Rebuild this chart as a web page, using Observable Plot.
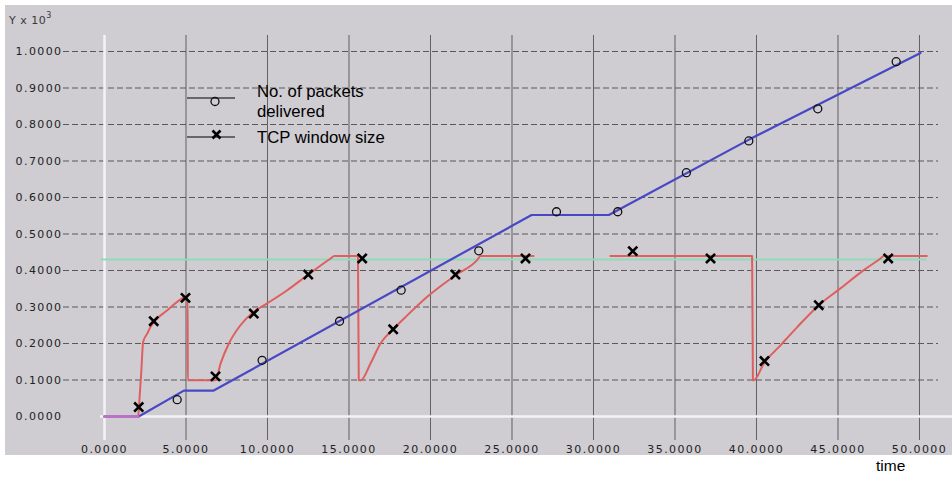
<!DOCTYPE html>
<html>
<head>
<meta charset="utf-8">
<script src="https://cdn.jsdelivr.net/npm/d3@7"></script>
<script src="https://cdn.jsdelivr.net/npm/@observablehq/plot@0.6"></script>
<style>
  html, body { margin: 0; padding: 0; background: #ffffff; }
  #wrap { position: relative; width: 952px; height: 479px; overflow: hidden; background: #ffffff; }
  #chart { position: absolute; left: 5px; top: 5px; }
  #chart svg text { letter-spacing: 1.4px; }
  #ylab { position: absolute; left: 9px; top: 12px; font: 11px "DejaVu Sans", sans-serif; color: #3a3a3a; letter-spacing: 0.5px; }
  #ylab sup { font-size: 8px; position: relative; top: -1px; }
  #xlab { position: absolute; left: 876px; top: 457px; font: 15.5px "Liberation Sans", Arial, sans-serif; color: #000; }
  #legend { position: absolute; left: 0; top: 0; }
</style>
</head>
<body>
<div id="wrap">
  <div id="chart"></div>
  <div id="ylab">Y x 10<sup>3</sup></div>
  <svg id="legend" width="420" height="160"></svg>
  <div id="xlab">time</div>
</div>
<script>
// ---- tick values ----
const xTicks = [0, 5, 10, 15, 20, 25, 30, 35, 40, 45, 50];
const yTicks = [0, 0.1, 0.2, 0.3, 0.4, 0.5, 0.6, 0.7, 0.8, 0.9, 1.0];

// ---- series: No. of packets delivered (line) ----
const pktT = [0, 2.1, 4.87, 6.7, 26.2, 30.94, 39.6, 50.06];
const pktY = [0, 0, 0.071, 0.071, 0.552, 0.552, 0.760, 0.996];
// sampled markers (circles)
const pktMarkT = [4.46, 9.67, 14.42, 18.2, 22.96, 27.73, 31.49, 35.7, 39.53, 43.76, 48.57];
const pktMarkY = [0.046, 0.154, 0.261, 0.346, 0.454, 0.561, 0.561, 0.668, 0.755, 0.843, 0.972];

// ---- series: TCP window size (line, null = gap) ----
const tcpT = [0, 2.06, 2.15, 2.25, 2.37, 2.62, 2.82, 3.85, 4.97, 5.1, 5.11, 6.81, 7.12, 7.63, 8.34, 9.16, 9.98, 11.21, 12.44, 13.87, 14.1, 15.55, 15.6, 15.72, 16.32, 16.93, 17.75, 18.57, 19.8, 21.53, 22.87, 23.07, 26.32, 28.5, 31.04, 39.73, 39.78, 39.83, 40.45, 41.47, 42.5, 43.82, 45.15, 46.58, 47.61, 47.81, 50.45];
const tcpW = [0, 0, 0.05, 0.117, 0.204, 0.227, 0.245, 0.291, 0.328, 0.33, 0.099, 0.099, 0.145, 0.2, 0.25, 0.287, 0.31, 0.346, 0.387, 0.433, 0.44, 0.44, 0.1, 0.099, 0.145, 0.2, 0.241, 0.277, 0.328, 0.387, 0.429, 0.44, 0.44, null, 0.44, 0.44, 0.1, 0.099, 0.145, 0.195, 0.245, 0.305, 0.351, 0.401, 0.433, 0.44, 0.44];
// sampled markers (crosses)
const tcpMarkT = [2.1, 3.02, 4.97, 6.81, 9.16, 12.5, 15.81, 17.71, 21.53, 25.83, 32.41, 37.18, 40.49, 43.82, 48.08];
const tcpMarkY = [0.026, 0.261, 0.325, 0.11, 0.282, 0.389, 0.433, 0.239, 0.389, 0.433, 0.453, 0.433, 0.152, 0.305, 0.433];

// ---- reference level (green) ----
const threshold = [0.43];

const fmt = d3.format(".4f");
const gridX = xTicks.filter(d => d !== 0);
const gridY = yTicks.filter(d => d !== 0);

const chart = Plot.plot({
  width: 947,
  height: 450,
  marginLeft: 58,
  marginRight: 14,
  marginTop: 30,
  marginBottom: 15,
  style: { background: "#cfccd2", fontFamily: "DejaVu Sans, sans-serif", fontSize: "11px", color: "#222", overflow: "visible" },
  x: { domain: [-2.515, 51.166] },
  y: { domain: [-0.06575, 1.04384] },
  marks: [
    Plot.gridY(gridY, { stroke: "#444", strokeOpacity: 0.85, strokeWidth: 1, strokeDasharray: "6,3" }),
    Plot.gridX(gridX, { stroke: "#555", strokeOpacity: 0.9, strokeWidth: 1 }),
    Plot.ruleX([0], { stroke: "#f3f3f5", strokeWidth: 2.5 }),
    Plot.ruleY([0], { x1: -0.25, x2: 52.1, stroke: "#f3f3f5", strokeWidth: 2.5, clip: false }),
    Plot.ruleY(threshold, { x1: -0.2, x2: 50.45, stroke: "#90dcb8", strokeWidth: 2 }),
    Plot.line(tcpW, { x: tcpT, y: tcpW, stroke: "#de5f5e", strokeWidth: 2, curve: "monotone-x" }),
    Plot.line(pktY, { x: pktT, y: pktY, stroke: "#4848c4", strokeWidth: 2.2, curve: "linear" }),
    Plot.line(tcpW.slice(0, 2), { x: tcpT.slice(0, 2), y: tcpW.slice(0, 2), stroke: "#b774c6", strokeWidth: 3 }),
    Plot.dot(pktMarkY, { x: pktMarkT, y: pktMarkY, r: 4, stroke: "#111", strokeWidth: 1.3, fill: "none" }),
    Plot.dot(tcpMarkY, { x: tcpMarkT, y: tcpMarkY, symbol: "times", r: 4.2, stroke: "#000", strokeWidth: 2.6 }),
    Plot.axisY(yTicks, { anchor: "left", tickSize: 0, tickPadding: 1, tickFormat: fmt, fill: "#222" }),
    Plot.axisX(xTicks, { anchor: "bottom", tickSize: 0, tickPadding: 5, tickFormat: fmt, fill: "#222" })
  ]
});
document.getElementById("chart").appendChild(chart);

// ---- legend ----
const legendItems = [
  { label: ["No. of packets", "delivered"], symbol: "circle" },
  { label: ["TCP window size"], symbol: "times" }
];
const lg = d3.select("#legend");
const rowY = [98, 137];
legendItems.forEach((it, i) => {
  const y = rowY[i];
  lg.append("line").attr("x1", 187).attr("x2", 235).attr("y1", y).attr("y2", y)
    .attr("stroke", "#000").attr("stroke-width", 1.2);
  if (it.symbol === "circle") {
    lg.append("circle").attr("cx", 215).attr("cy", y + 3.5).attr("r", 4)
      .attr("fill", "none").attr("stroke", "#111").attr("stroke-width", 1.3);
  } else {
    lg.append("path").attr("transform", `translate(216.5,${y - 2.5})`)
      .attr("d", "M-4,-4L4,4M-4,4L4,-4").attr("stroke", "#000").attr("stroke-width", 2.6);
  }
  it.label.forEach((t, j) => {
    lg.append("text").attr("x", 257).attr("y", (i === 0 ? 97 : 143) + j * 20)
      .attr("font-family", "Liberation Sans, Arial, sans-serif").attr("font-size", 16.7)
      .attr("fill", "#000").text(t);
  });
});
</script>
</body>
</html>
